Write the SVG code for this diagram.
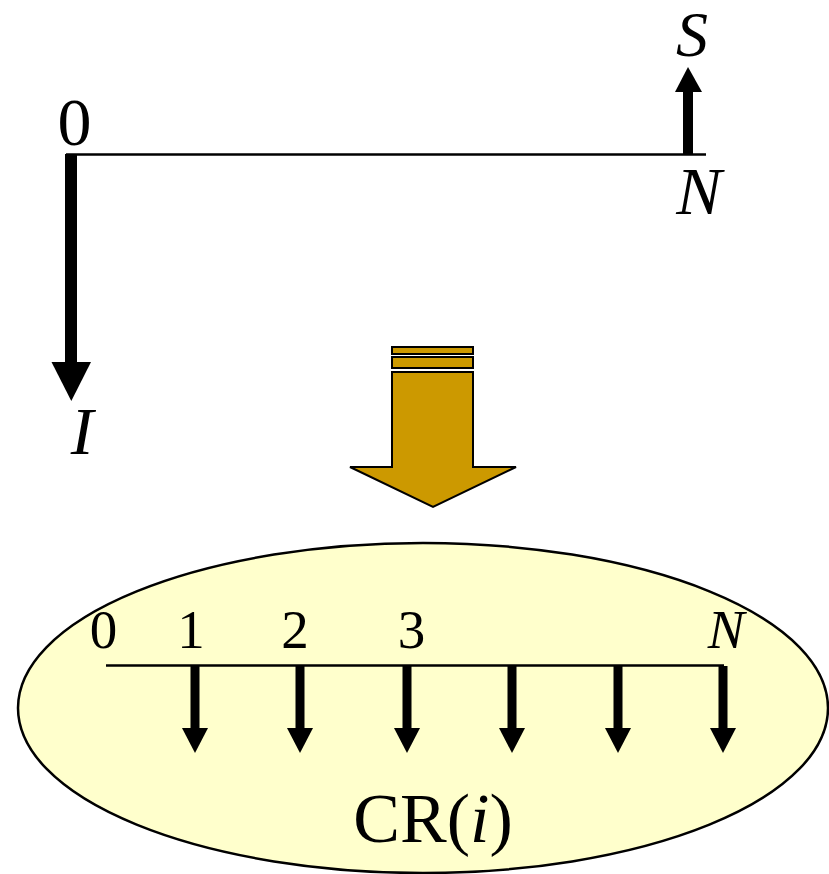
<svg xmlns="http://www.w3.org/2000/svg" width="829" height="874" viewBox="0 0 829 874">
<style>
text{font-family:"Liberation Serif","Times New Roman",serif;fill:#000;text-anchor:middle}
.big{font-size:68px}
.mid{font-size:55px}
.it{font-style:italic}
.ln{stroke:#000;stroke-width:2.5;fill:none}
</style>
<defs>
<g id="down">
<rect x="-4.5" y="0" width="9" height="62" fill="#000"/>
<polygon points="-13,62 13,62 0,87" fill="#000"/>
</g>
</defs>
<rect width="829" height="874" fill="#fff"/>
<g id="top-diagram">
<line class="ln" x1="66" y1="154.5" x2="706" y2="154.5"/>
<g id="arrow-I">
<rect x="65" y="154" width="12" height="208" fill="#000"/>
<polygon points="51.5,362 91,362 71.3,401" fill="#000"/>
</g>
<g id="arrow-S">
<rect x="683" y="91" width="10" height="64" fill="#000"/>
<polygon points="675,92 702,92 688,67" fill="#000"/>
</g>
<text class="big" x="74.5" y="145">0</text>
<text class="it" x="692" y="56" style="font-size:64px">S</text>
<text class="big it" x="699" y="214">N</text>
<text class="big it" x="82" y="454">I</text>
</g>
<g id="transform-arrow" fill="#CC9900" stroke="#000" stroke-width="2">
<rect x="392" y="347" width="81" height="7"/>
<rect x="392" y="357" width="81" height="11"/>
<polygon points="392,372 473,372 473,467 516,467 433,507 350,467 392,467"/>
</g>
<g id="ellipse-node">
<ellipse cx="423" cy="708" rx="405" ry="165" fill="#FFFFCC" stroke="#000" stroke-width="2.5"/>
<line class="ln" x1="106" y1="665.5" x2="724" y2="665.5"/>
<use href="#down" x="195" y="666"/>
<use href="#down" x="300" y="666"/>
<use href="#down" x="407" y="666"/>
<use href="#down" x="512" y="666"/>
<use href="#down" x="618" y="666"/>
<use href="#down" x="723" y="666"/>
<text class="mid" x="103.5" y="648">0</text>
<text class="mid" x="191" y="648">1</text>
<text class="mid" x="295" y="648">2</text>
<text class="mid" x="411.5" y="648">3</text>
<text class="mid it" x="726" y="648">N</text>
<text x="433" y="842" style="font-size:70px">CR(<tspan font-style="italic">i</tspan>)</text>
</g>
</svg>
